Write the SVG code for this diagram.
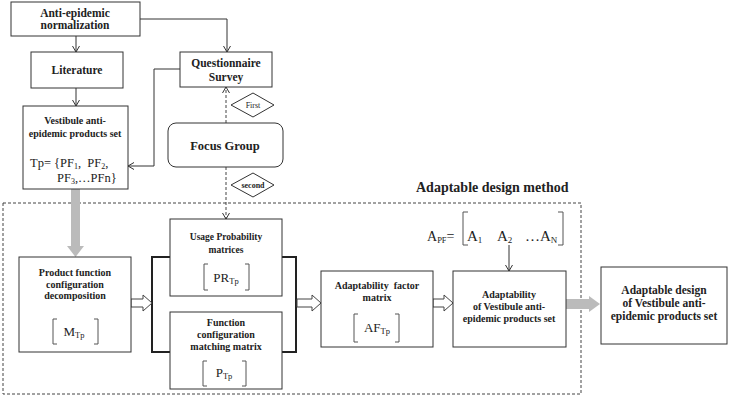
<svg xmlns="http://www.w3.org/2000/svg" width="729" height="403" viewBox="0 0 729 403">
<style>
.box{fill:#fff;stroke:#333;stroke-width:1}
.t{font-family:"Liberation Serif","Times New Roman",serif;font-weight:bold;fill:#222;text-anchor:middle}
.m{font-family:"Liberation Serif","Times New Roman",serif;fill:#222}
.ln{stroke:#333;stroke-width:1;fill:none}
.dash{stroke:#444;stroke-width:1;fill:none;stroke-dasharray:3,2}
.hollow{fill:#fff;stroke:#444;stroke-width:1}
.gray{fill:#bbb;stroke:none}
.brk{stroke:#555;stroke-width:1;fill:none}
</style>
<defs>
<marker id="arr" markerWidth="8" markerHeight="8" refX="7" refY="4" orient="auto" markerUnits="userSpaceOnUse">
<path d="M1,0.5 L7,4 L1,7.5" fill="none" stroke="#333" stroke-width="1"/>
</marker>
</defs>

<g id="method-frame">
<rect x="3" y="203" width="578" height="191" class="dash"/>
<text x="416" y="192" class="t" style="text-anchor:start;font-size:14px">Adaptable design method</text>
</g>

<g id="connectors">
<line x1="76" y1="36" x2="76" y2="52" class="ln" marker-end="url(#arr)"/>
<line x1="76" y1="88" x2="76" y2="106" class="ln" marker-end="url(#arr)"/>
<path d="M140,19 H227 V52" class="ln" marker-end="url(#arr)"/>
<path d="M180,69 H154 V166 H128" class="ln" marker-end="url(#arr)"/>
<line x1="226" y1="123" x2="226" y2="87" class="dash" marker-end="url(#arr)"/>
<line x1="226" y1="167" x2="226" y2="219" class="dash" marker-end="url(#arr)"/>
<polygon class="gray" points="71,189 80,189 80,246 84,246 75.5,257 67,246 71,246"/>
<path d="M170,257 H152 V352 H170 M282,257 H296 V352 H282" stroke="#222" stroke-width="2" fill="none"/>
<polygon class="hollow" points="131,299 143,299 143,295 152,303 143,311 143,307 131,307"/>
<polygon class="hollow" points="297,299 312,299 312,295 321,303 312,311 312,307 297,307"/>
<polygon class="hollow" points="433,299 444,299 444,295 453,303 444,311 444,307 433,307"/>
<line x1="509" y1="245" x2="509" y2="271" class="ln" marker-end="url(#arr)"/>
<polygon class="gray" points="566,299 589,299 589,296 600,304 589,312 589,309 566,309"/>
</g>

<g id="anti-epidemic">
<rect x="11" y="2" width="129" height="34" class="box"/>
<text x="75" y="17" class="t" style="font-size:11.5px">Anti-epidemic</text>
<text x="75" y="29" class="t" style="font-size:11.5px">normalization</text>
</g>

<g id="literature">
<rect x="31" y="52" width="92" height="36" class="box"/>
<text x="77" y="74" class="t" style="font-size:11.5px">Literature</text>
</g>

<g id="vestibule-set">
<rect x="23" y="106" width="105" height="83" class="box"/>
<text x="75" y="124" class="t" style="font-size:10px">Vestibule anti-</text>
<text x="75" y="137" class="t" style="font-size:10px">epidemic products set</text>
<text x="30" y="167" class="m" style="font-size:12.5px" xml:space="preserve">Tp= {PF<tspan font-size="8" dy="2">1</tspan><tspan dy="-2">,  PF</tspan><tspan font-size="8" dy="2">2</tspan><tspan dy="-2">,</tspan></text>
<text x="57" y="182" class="m" style="font-size:12.5px">PF<tspan font-size="8" dy="2">3</tspan><tspan dy="-2">,…PFn}</tspan></text>
</g>

<g id="questionnaire">
<rect x="180" y="52" width="92" height="35" class="box"/>
<text x="226" y="67" class="t" style="font-size:11.5px">Questionnaire</text>
<text x="226" y="81" class="t" style="font-size:11.5px">Survey</text>
</g>

<g id="first-label">
<polygon points="231,105 253,93 274,105 253,117" class="box"/>
<text x="253" y="108" class="t" style="font-size:8px;font-weight:normal">First</text>
</g>

<g id="focus-group">
<rect x="168" y="123" width="115" height="44" rx="8" class="box"/>
<text x="225" y="150" class="t" style="font-size:12.5px">Focus Group</text>
</g>

<g id="second-label">
<polygon points="231,185 253,173 274,185 253,197" class="box"/>
<text x="253" y="188" class="t" style="font-size:8px">second</text>
</g>

<g id="product-function">
<rect x="19" y="257" width="112" height="95" class="box"/>
<text x="75" y="276" class="t" style="font-size:10px">Product function</text>
<text x="75" y="288" class="t" style="font-size:10px">configuration</text>
<text x="75" y="299" class="t" style="font-size:10px">decomposition</text>
<path d="M57,319 H53 V344 H57 M94,319 H98 V344 H94" class="brk"/>
<text x="74" y="336" class="m" style="font-size:13px;text-anchor:middle">M<tspan font-size="8.5" dy="2">Tp</tspan></text>
</g>

<g id="usage-probability">
<rect x="170" y="219" width="112" height="77" class="box"/>
<text x="226" y="240" class="t" style="font-size:9.5px">Usage Probability</text>
<text x="226" y="253" class="t" style="font-size:9.5px">matrices</text>
<path d="M208,264 H204 V290 H208 M245,264 H249 V290 H245" class="brk"/>
<text x="226" y="282" class="m" style="font-size:13px;text-anchor:middle">PR<tspan font-size="8.5" dy="2">Tp</tspan></text>
</g>

<g id="function-matching">
<rect x="170" y="312" width="112" height="77" class="box"/>
<text x="226" y="326" class="t" style="font-size:10px">Function</text>
<text x="226" y="338" class="t" style="font-size:10px">configuration</text>
<text x="226" y="350" class="t" style="font-size:10px">matching matrix</text>
<path d="M207,361 H203 V386 H207 M242,361 H246 V386 H242" class="brk"/>
<text x="224" y="377" class="m" style="font-size:13px;text-anchor:middle">P<tspan font-size="8.5" dy="2">Tp</tspan></text>
</g>

<g id="adaptability-factor">
<rect x="321" y="271" width="112" height="76" class="box"/>
<text x="377" y="289" class="t" style="font-size:10px" xml:space="preserve">Adaptability  factor</text>
<text x="377" y="301" class="t" style="font-size:10px">matrix</text>
<path d="M358,314 H354 V342 H358 M395,314 H399 V342 H395" class="brk"/>
<text x="377" y="332" class="m" style="font-size:13px;text-anchor:middle">AF<tspan font-size="8.5" dy="2">Tp</tspan></text>
</g>

<g id="apf-vector">
<text x="427" y="241" class="m" style="font-size:14px">A<tspan font-size="8.5" dy="2">PF</tspan><tspan dy="-2">=</tspan></text>
<path d="M468,212 H463 V245 H468 M558,212 H563 V245 H558" class="brk" stroke-width="1.2"/>
<text x="467" y="241" class="m" style="font-size:15px">A<tspan font-size="9" dy="2">1</tspan></text>
<text x="497" y="241" class="m" style="font-size:15px">A<tspan font-size="9" dy="2">2</tspan></text>
<text x="525" y="241" class="m" style="font-size:15px">…A<tspan font-size="9" dy="2">N</tspan></text>
</g>

<g id="adaptability-set">
<rect x="453" y="271" width="113" height="76" class="box"/>
<text x="509" y="298" class="t" style="font-size:10px">Adaptability</text>
<text x="509" y="310" class="t" style="font-size:10px">of Vestibule anti-</text>
<text x="509" y="322" class="t" style="font-size:10px">epidemic products set</text>
</g>

<g id="adaptable-design">
<rect x="601" y="267" width="126" height="77" class="box" stroke-width="2"/>
<text x="664" y="294" class="t" style="font-size:11.5px">Adaptable design</text>
<text x="664" y="307" class="t" style="font-size:11.5px">of Vestibule anti-</text>
<text x="664" y="320" class="t" style="font-size:11.5px">epidemic products set</text>
</g>
</svg>
